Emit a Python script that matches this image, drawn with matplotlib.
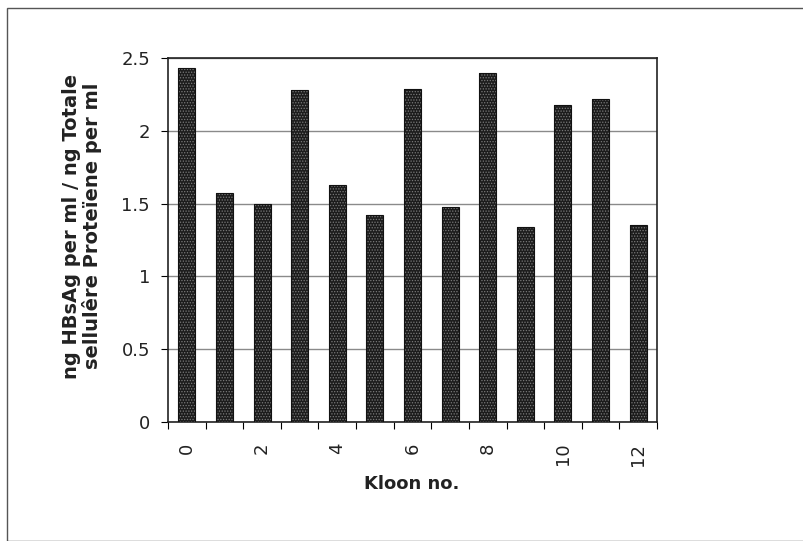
import matplotlib
matplotlib.use('Agg')
import matplotlib.pyplot as plt
from matplotlib.patches import Rectangle

# clone number and HBsAg / total cellular protein ratio
kloon=list(range(13))
ratio=[2.43,1.57,1.50,2.28,1.63,1.42,2.29,1.48,2.40,1.34,2.18,2.22,1.35]
yticks=[0,0.5,1,1.5,2,2.5]
yticklabels=['0','0.5','1','1.5','2','2.5']
xticks=[0,2,4,6,8,10,12]

plt.rcParams['font.family']=['DejaVu Sans']
plt.rcParams['hatch.linewidth']=0.6

fig=plt.figure(figsize=(8.04,5.41),dpi=100)
W,H=804.,541.
# outer frame (only top and left edges are visible in the picture)
fig.patches.append(Rectangle((7/W,0),1.2,1-8/H,transform=fig.transFigure,
    fill=False,edgecolor='#555555',linewidth=1.0))

ax=fig.add_axes([168/W,1-422/H,(657-168)/W,(422-58)/H])
ax.bar(kloon,ratio,width=0.45,color='#1c1c1c',edgecolor='#7a7a7a',hatch='......',linewidth=0,zorder=3)
ax.bar(kloon,ratio,width=0.45,fill=False,edgecolor='#111111',linewidth=0.8,zorder=4)

ax.set_xlim(-0.5,12.5)
ax.set_ylim(0,2.5)
ax.set_yticks(yticks)
ax.set_yticklabels(yticklabels,fontsize=13,color='#222222')
ax.set_xticks(xticks)
ax.set_xticklabels([str(k) for k in xticks],rotation=90,fontsize=13,color='#222222')
ax.set_xticks([k-0.5 for k in range(14)],minor=True)
ax.tick_params(axis='x',which='major',length=0,pad=15)
ax.tick_params(axis='x',which='minor',length=5,width=0.8,direction='out')
ax.tick_params(axis='y',length=5,width=0.8,direction='out',pad=8)
ax.yaxis.grid(True,color='#8a8a8a',linewidth=1.0,zorder=1)
ax.set_axisbelow(True)
for s in ax.spines.values():
    s.set_linewidth(1.2)
    s.set_color('#222222')

fig.text(412/W,1-484/H,'Kloon no.',ha='center',va='center',fontsize=13,fontweight='bold',color='#222222')
fig.text(82/W,1-226/H,'ng HBsAg per ml / ng Totale\nsellulêre Proteïene per ml',
    rotation=90,ha='center',va='center',fontsize=14,fontweight='bold',linespacing=1.05,color='#222222')

fig.savefig('out.png',dpi=100)
